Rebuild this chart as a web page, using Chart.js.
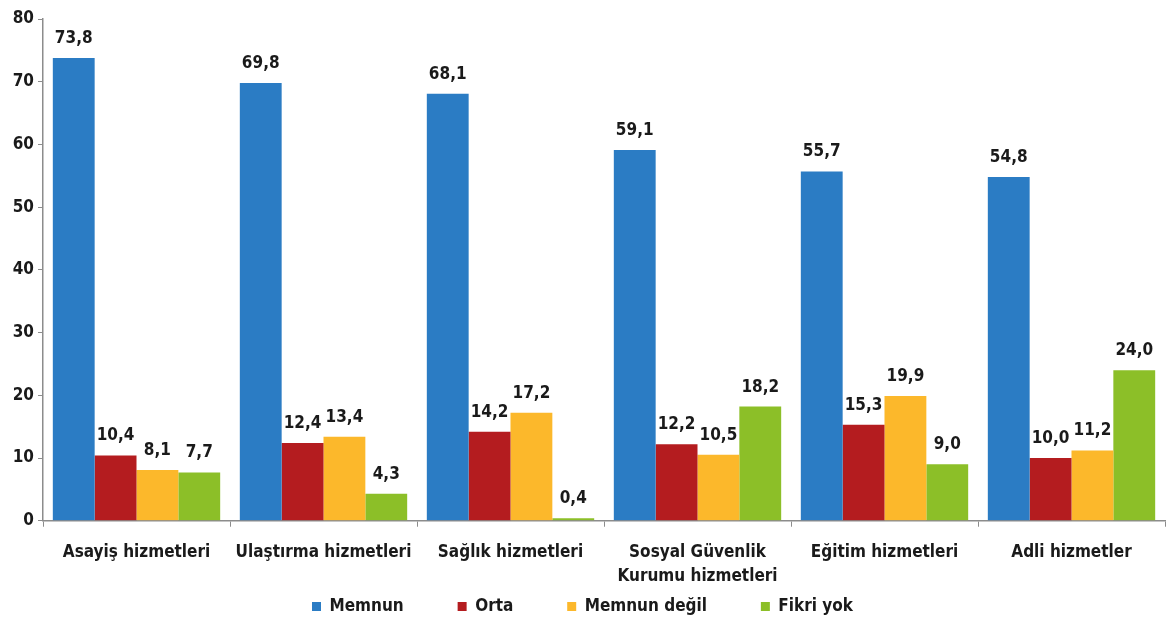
<!DOCTYPE html>
<html>
<head>
<meta charset="utf-8">
<script src="https://cdn.jsdelivr.net/npm/chart.js@4/dist/chart.umd.min.js"></script>
<style>
  html, body { margin: 0; padding: 0; background: #fff; }
  #wrap { width: 1167px; height: 635px; }
</style>
</head>
<body>
<div id="wrap"><canvas id="chart" width="1167" height="635"></canvas></div>
<script>
// Data
const categories = [
  'Asayiş hizmetleri',
  'Ulaştırma hizmetleri',
  'Sağlık hizmetleri',
  ['Sosyal Güvenlik', 'Kurumu hizmetleri'],
  'Eğitim hizmetleri',
  'Adli hizmetler'
];
const memnun = [73.8, 69.8, 68.1, 59.1, 55.7, 54.8];
const orta = [10.4, 12.4, 14.2, 12.2, 15.3, 10.0];
const memnunDegil = [8.1, 13.4, 17.2, 10.5, 19.9, 11.2];
const fikriYok = [7.7, 4.3, 0.4, 18.2, 9.0, 24.0];
const yTicks = [0, 10, 20, 30, 40, 50, 60, 70, 80];

const FONT = "'Liberation Sans Narrow', 'DejaVu Sans Condensed', 'Arial Narrow', sans-serif";
const TEXT = '#1a1a1a';

const colors = {
  memnun: '#2b7cc4',
  orta: '#b41c1f',
  degil: '#fcb82b',
  fikri: '#8cbf28'
};

// Draws the value above every bar, with a decimal comma
const valueLabels = {
  id: 'valueLabels',
  afterDatasetsDraw(chart) {
    const ctx = chart.ctx;
    ctx.save();
    ctx.font = 'bold 17px ' + FONT;
    ctx.fillStyle = TEXT;
    ctx.textAlign = 'center';
    ctx.textBaseline = 'bottom';
    chart.data.datasets.forEach((ds, i) => {
      chart.getDatasetMeta(i).data.forEach((bar, j) => {
        const txt = ds.data[j].toFixed(1).replace('.', ',');
        ctx.fillText(txt, bar.x, bar.y - 11);
      });
    });
    ctx.restore();
  }
};

new Chart(document.getElementById('chart'), {
  type: 'bar',
  data: {
    labels: categories,
    datasets: [
      { label: 'Memnun', data: memnun, backgroundColor: colors.memnun },
      { label: 'Orta', data: orta, backgroundColor: colors.orta },
      { label: 'Memnun değil', data: memnunDegil, backgroundColor: colors.degil },
      { label: 'Fikri yok', data: fikriYok, backgroundColor: colors.fikri }
    ]
  },
  options: {
    responsive: false,
    animation: false,
    datasets: {
      bar: { barPercentage: 1, categoryPercentage: 0.895, borderWidth: 0 }
    },
    layout: { padding: { top: 19, right: 2, left: 0, bottom: 10 } },
    plugins: {
      tooltip: { enabled: false },
      legend: {
        position: 'bottom',
        labels: {
          usePointStyle: true,
          pointStyle: 'rect',
          boxWidth: 9,
          boxHeight: 9,
          padding: 8,
          color: TEXT,
          font: { family: FONT, size: 17, weight: 'bold' },
          // wider gaps between items without making the legend taller
          generateLabels(chart) {
            const items = Chart.defaults.plugins.legend.labels.generateLabels(chart);
            return items.map((it, i) => ({
              ...it,
              text: i < items.length - 1 ? it.text + '\u2003\u2003\u2003' : it.text
            }));
          }
        }
      }
    },
    scales: {
      x: {
        afterFit: (s) => { s.height -= 13; },
        grid: { display: true, drawOnChartArea: false, color: '#8c8c8c', tickLength: 6 },
        border: { color: '#8c8c8c', width: 1.5 },
        ticks: {
          color: TEXT,
          autoSkip: false,
          maxRotation: 0,
          padding: 14,
          font: { family: FONT, size: 17, weight: 'bold', lineHeight: 1.42 }
        }
      },
      y: {
        min: 0,
        max: 80,
        afterBuildTicks: (s) => { s.ticks = yTicks.map(v => ({ value: v })); },
        afterFit: (s) => { s.width = 43; },
        grid: { display: true, drawOnChartArea: false, color: '#8c8c8c', tickLength: 5 },
        border: { color: '#8c8c8c', width: 1.5 },
        ticks: {
          color: TEXT,
          padding: 4,
          font: { family: FONT, size: 17, weight: 'bold' }
        }
      }
    }
  },
  plugins: [valueLabels]
});
</script>
</body>
</html>
